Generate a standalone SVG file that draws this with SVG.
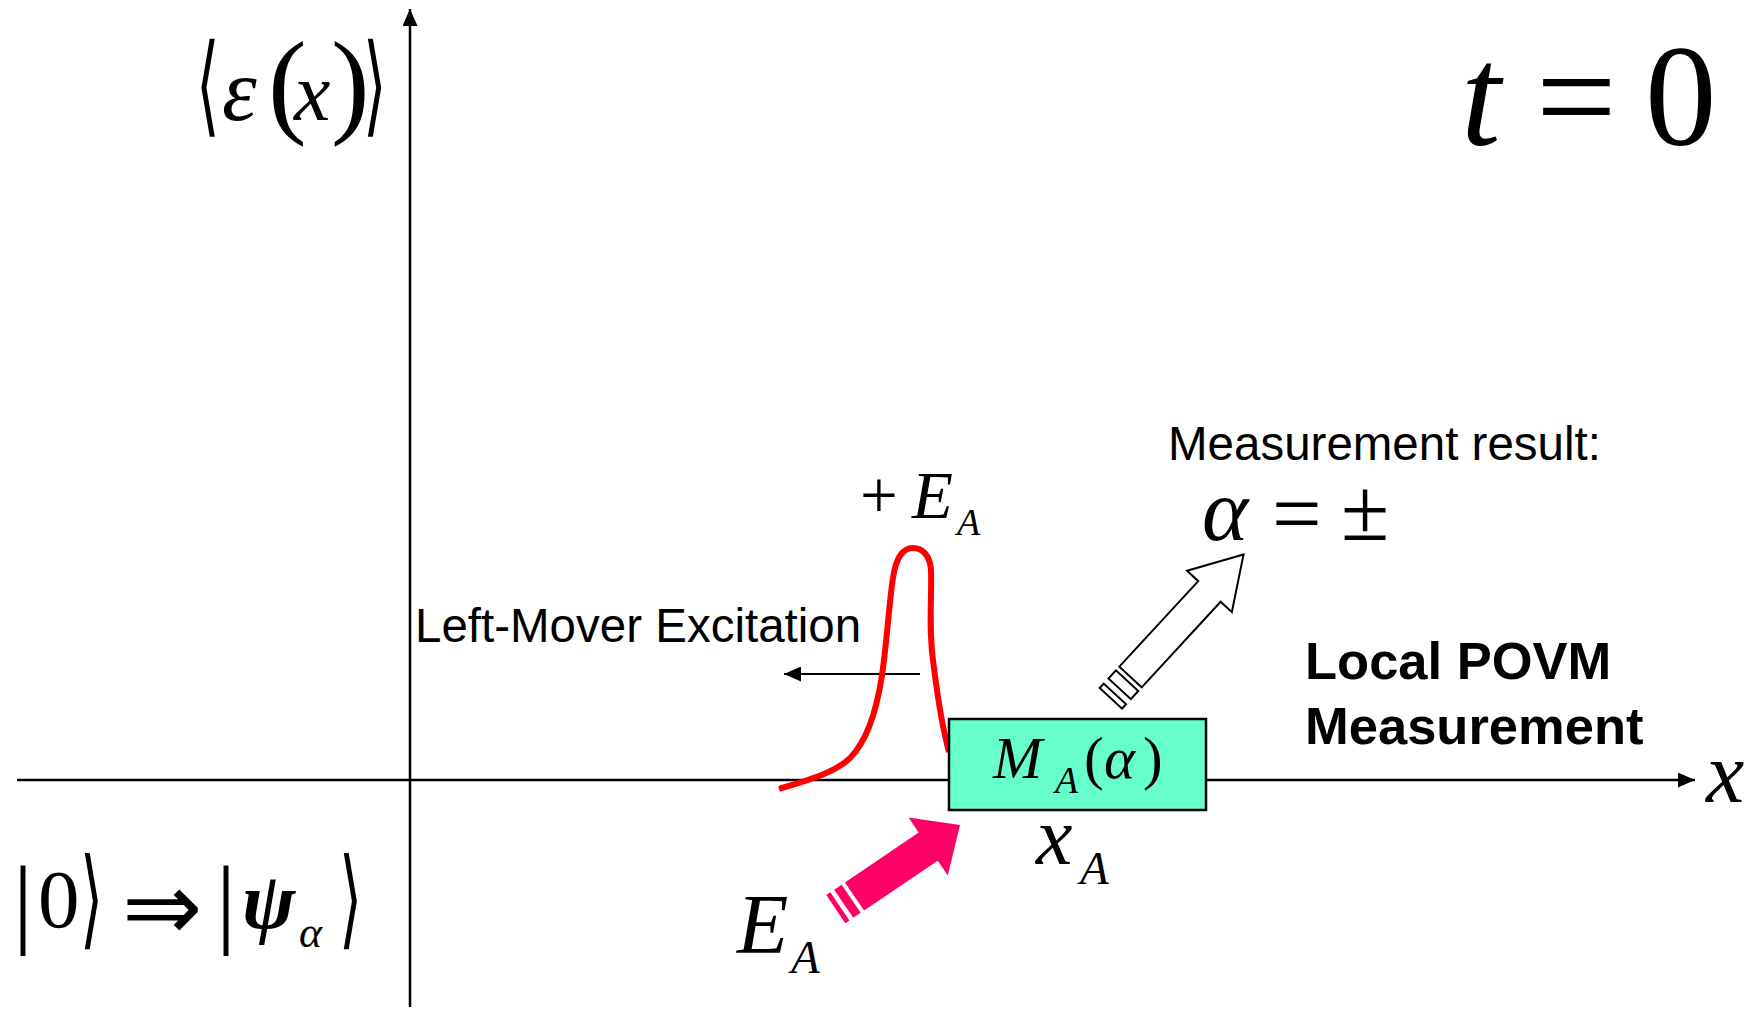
<svg xmlns="http://www.w3.org/2000/svg" width="1758" height="1010" viewBox="0 0 1758 1010">
<style>
.m{font-family:"Liberation Serif","Times New Roman",serif;fill:#000}
.i{font-style:italic}
.s{font-family:"Liberation Sans",Arial,sans-serif;fill:#000}
.b{font-weight:bold}
.d{font-family:"DejaVu Sans","DejaVu Serif",sans-serif;fill:#000}
.ax{stroke:#000;stroke-width:2.5;fill:none}
</style>
<defs>
<marker id="ah" viewBox="0 0 17 15" refX="17" refY="7.5" markerWidth="17" markerHeight="15" markerUnits="userSpaceOnUse" orient="auto"><path d="M0,0L17,7.5L0,15z" fill="#000"/></marker>
</defs>
<rect width="1758" height="1010" fill="#fff"/>

<g id="connectors">
<line class="ax" x1="17" y1="780" x2="1695" y2="780" marker-end="url(#ah)"/>
<line class="ax" x1="410" y1="1007" x2="410" y2="9" marker-end="url(#ah)"/>
<line id="left-mover-arrow" x1="920" y1="674" x2="784" y2="674" stroke="#000" stroke-width="2.2" marker-end="url(#ah)"/>
</g>

<g id="pulse">
<path d="M779,789 C805,781 835,773 850,758 C866,742 876,715 882,675 C888,635 890,585 895,568 C899,553 906,548 913,548 C922,548 930,555 931,570 C932,600 928,630 934,668 C938,700 943,730 949,752" fill="none" stroke="#FF0000" stroke-width="6"/>
</g>

<g id="measurement-box">
<rect x="949" y="719" width="257" height="91" fill="#66FFCC" stroke="#000" stroke-width="2.5"/>
<text class="m" font-size="59"><tspan class="i" x="993" y="778">M</tspan><tspan class="i" x="1055" y="793" font-size="38">A</tspan><tspan x="1084" y="778">(</tspan><tspan class="i" x="1104" y="778">α</tspan><tspan x="1143" y="778">)</tspan></text>
</g>

<g id="excitation-arrow" transform="translate(854.5,896.5) rotate(-34.1)" fill="#FF0066">
<polygon points="0,-17 89,-17 89,-35 127.4,0 89,35 89,17 0,17"/>
<rect x="-13" y="-17" width="9" height="34"/>
<rect x="-22.6" y="-17" width="5" height="34"/>
</g>

<g id="result-arrow" transform="translate(1130.5,677) rotate(-47.3)" fill="#fff" stroke="#000" stroke-width="2">
<polygon points="0,-15.2 116.4,-15.2 116.4,-30.5 166.7,0 116.4,30.5 116.4,15.2 0,15.2"/>
<rect x="-16" y="-15.2" width="11" height="30.4"/>
<rect x="-29" y="-15.2" width="6" height="30.4"/>
</g>

<g id="label-energy">
<g transform="translate(196,122) scale(0.55,1)"><text class="d" font-size="110" x="0" y="0">⟨</text></g>
<text class="m"><tspan class="i" font-size="88" x="222" y="120">ε</tspan><tspan font-size="116" x="268" y="122">(</tspan><tspan class="i" font-size="82" x="294" y="120">x</tspan><tspan font-size="116" x="331" y="122">)</tspan></text>
<g transform="translate(363,122) scale(0.55,1)"><text class="d" font-size="110" x="0" y="0">⟩</text></g>
</g>

<g id="label-time">
<text class="m" font-size="143"><tspan class="i" x="1461" y="145">t</tspan><tspan x="1536" y="145">=</tspan><tspan x="1645" y="145">0</tspan></text>
</g>

<g id="label-state">
<text class="m" font-size="100" x="13" y="935">|</text>
<text class="m" font-size="83" x="38" y="927">0</text>
<g transform="translate(80,935) scale(0.55,1)"><text class="d" font-size="108" x="0" y="0">⟩</text></g>
<text class="d" font-size="96" x="122" y="940">⇒</text>
<text class="m" font-size="100" x="216" y="935">|</text>
<text class="m i" font-size="80" x="242" y="928" font-weight="bold">ψ</text>
<text class="m i" font-size="44" x="299" y="947">α</text>
<g transform="translate(339,935) scale(0.55,1)"><text class="d" font-size="108" x="0" y="0">⟩</text></g>
</g>

<g id="label-x-axis"><text class="m i" font-size="86" x="1706" y="802">x</text></g>

<g id="label-xa"><text class="m i"><tspan font-size="82" x="1036" y="864">x</tspan><tspan font-size="47" x="1080" y="884">A</tspan></text></g>

<g id="label-plus-ea"><text class="m"><tspan font-size="67" x="860" y="518">+</tspan><tspan class="i" font-size="67" x="912" y="518">E</tspan><tspan class="i" font-size="38" x="957" y="535">A</tspan></text></g>

<g id="label-ea"><text class="m i"><tspan font-size="84" x="737" y="953">E</tspan><tspan font-size="47" x="791" y="973">A</tspan></text></g>

<g id="label-alpha"><text class="m" font-size="88"><tspan class="i" x="1202" y="540">α</tspan><tspan x="1272" y="543">=</tspan><tspan x="1341" y="540">±</tspan></text></g>

<text class="s" font-size="47.5" x="1168" y="460">Measurement result:</text>
<text class="s" font-size="47.5" x="415" y="642">Left-Mover Excitation</text>
<text class="s b" font-size="52.5" x="1305" y="679">Local POVM</text>
<text class="s b" font-size="52.5" x="1305" y="744">Measurement</text>
</svg>
